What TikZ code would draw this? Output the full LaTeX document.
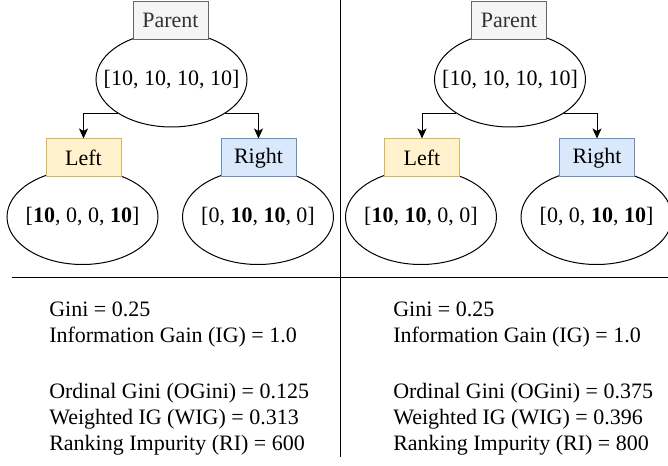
\documentclass[tikz,border=0pt]{standalone}
\usepackage{fontspec}
\setmainfont{Liberation Serif}
\usepackage{tikz}
\usetikzlibrary{shapes.geometric}
\usetikzlibrary{arrows.meta}

\definecolor{parentfill}{HTML}{F5F5F5}
\definecolor{parentline}{HTML}{666666}
\definecolor{parenttext}{HTML}{333333}
\definecolor{leftfill}{HTML}{FFF2CC}
\definecolor{leftline}{HTML}{D6B656}
\definecolor{rightfill}{HTML}{DAE8FC}
\definecolor{rightline}{HTML}{6C8EBF}

% keep the ellipse size fixed, whatever the list is
\newcommand{\classlist}[1]{\makebox[0pt]{#1}}

\tikzset{
	counts/.style={draw, ellipse, line width=0.75pt, minimum width=113.25pt, minimum height=71.25pt, inner sep=0pt},
	tag/.style={draw, line width=0.75pt, minimum width=56.25pt, minimum height=28.5pt, inner sep=0pt},
	parenttag/.style={tag, fill=parentfill, draw=parentline, text=parenttext},
	lefttag/.style={tag, fill=leftfill, draw=leftline},
	righttag/.style={tag, fill=rightfill, draw=rightline},
	branch/.style={-{Stealth[length=7.5pt,width=6.75pt,inset=1.9pt]}, line width=0.75pt},
	scores/.style={anchor=north west, align=left, inner sep=0pt}
}

\begin{document}
\begin{tikzpicture}[x=0.75pt, y=-0.75pt, font=\fontsize{16.5}{19.5}\selectfont]
			\useasboundingbox (0,0) rectangle (668,466);
			\clip (0,0) rectangle (668,466);
			% first split
			\node[counts] (ParentA) at (171.5,79.5) {\classlist{[10, 10, 10, 10]}};
			\node[parenttag] (ParentTagA) at (170.5,20.5) {Parent};
			\node[counts] (LeftA) at (82.5,217) {\classlist{[\textbf{10}, 0, 0, \textbf{10}]}};
			\node[lefttag] (LeftTagA) at (83.5,158) {Left};
			\node[counts] (RightA) at (258,217) {\classlist{[0, \textbf{10}, \textbf{10}, 0]}};
			\node[righttag] (RightTagA) at (258.5,158) {Right};
			\draw[branch] (ParentA.south west) -| (LeftTagA);
			\draw[branch] (ParentA.south east) -| (RightTagA);
			% second split
			\node[counts] (ParentB) at (510,79.5) {\classlist{[10, 10, 10, 10]}};
			\node[parenttag] (ParentTagB) at (509,20.5) {Parent};
			\node[counts] (LeftB) at (421,217) {\classlist{[\textbf{10}, \textbf{10}, 0, 0]}};
			\node[lefttag] (LeftTagB) at (422,158) {Left};
			\node[counts] (RightB) at (596.5,217) {\classlist{[0, 0, \textbf{10}, \textbf{10}]}};
			\node[righttag] (RightTagB) at (597,158) {Right};
			\draw[branch] (ParentB.south west) -| (LeftTagB);
			\draw[branch] (ParentB.south east) -| (RightTagB);
			% dividers
			\draw[line width=0.75pt] (12,278) -- (668,278);
			\draw[line width=0.75pt] (340,0) -- (340,457);
			% scores
			\node[scores] (ScoresA) at (49,302) {Gini = 0.25\\Information Gain (IG) = 1.0\\[22.5pt]Ordinal Gini (OGini) = 0.125\\Weighted IG (WIG) = 0.313\\Ranking Impurity (RI) = 600};
			\node[scores] (ScoresB) at (393,302) {Gini = 0.25\\Information Gain (IG) = 1.0\\[22.5pt]Ordinal Gini (OGini) = 0.375\\Weighted IG (WIG) = 0.396\\Ranking Impurity (RI) = 800};
\end{tikzpicture}
\end{document}
